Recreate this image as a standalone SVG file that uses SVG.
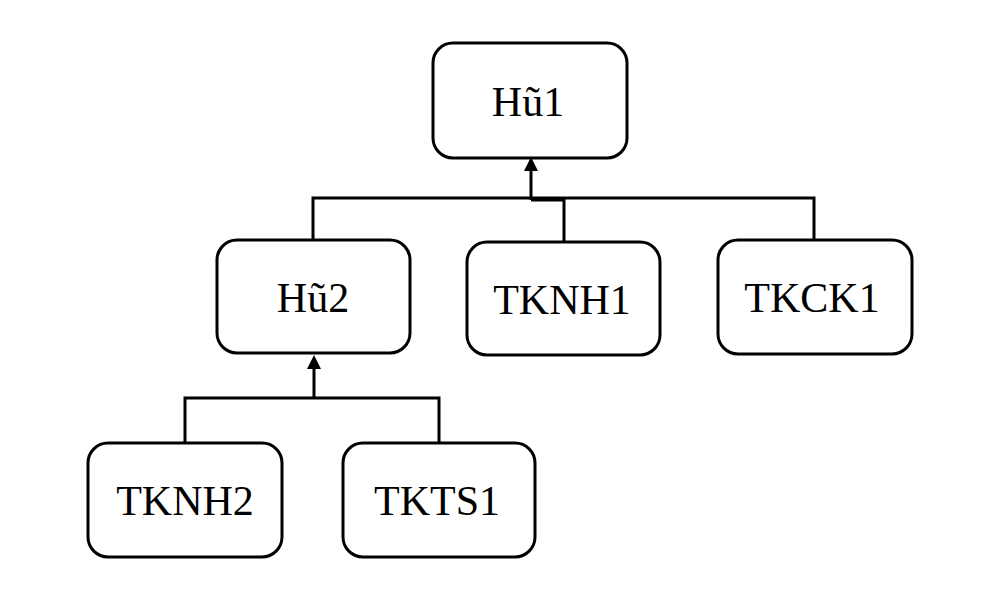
<svg xmlns="http://www.w3.org/2000/svg" width="984" height="604" viewBox="0 0 984 604">
<style>
.box{fill:#fff;stroke:#000;stroke-width:3}
.lbl{font-family:"Liberation Serif","Times New Roman",serif;font-size:42px;fill:#000;text-anchor:middle}
.con{fill:none;stroke:#000;stroke-width:3}
.head{fill:#000}
</style>
<rect width="984" height="604" fill="#fff"/>
<g id="connectors">
<path class="con" d="M313,240 V198 H814 V240"/>
<path class="con" d="M564,242 V200 H531"/>
<path class="con" d="M531,200 V168"/>
<path class="head" d="M524,171 L531,157 L538,171 Z"/>
<path class="con" d="M185,443 V398 H439 V443"/>
<path class="con" d="M314,398 V366"/>
<path class="head" d="M307,369 L314,355 L321,369 Z"/>
</g>
<g id="hu1">
<rect class="box" x="433" y="43" width="194" height="115" rx="20"/>
<text class="lbl" x="528" y="116">Hũ1</text>
</g>
<g id="hu2">
<rect class="box" x="217" y="240" width="193" height="113" rx="20"/>
<text class="lbl" x="313" y="312">Hũ2</text>
</g>
<g id="tknh1">
<rect class="box" x="467" y="242" width="193" height="113" rx="20"/>
<text class="lbl" x="562" y="314">TKNH1</text>
</g>
<g id="tkck1">
<rect class="box" x="718" y="240" width="194" height="114" rx="20"/>
<text class="lbl" x="812" y="312">TKCK1</text>
</g>
<g id="tknh2">
<rect class="box" x="88" y="443" width="194" height="114" rx="20"/>
<text class="lbl" x="185" y="515">TKNH2</text>
</g>
<g id="tkts1">
<rect class="box" x="343" y="443" width="192" height="114" rx="20"/>
<text class="lbl" x="437" y="515">TKTS1</text>
</g>
</svg>
